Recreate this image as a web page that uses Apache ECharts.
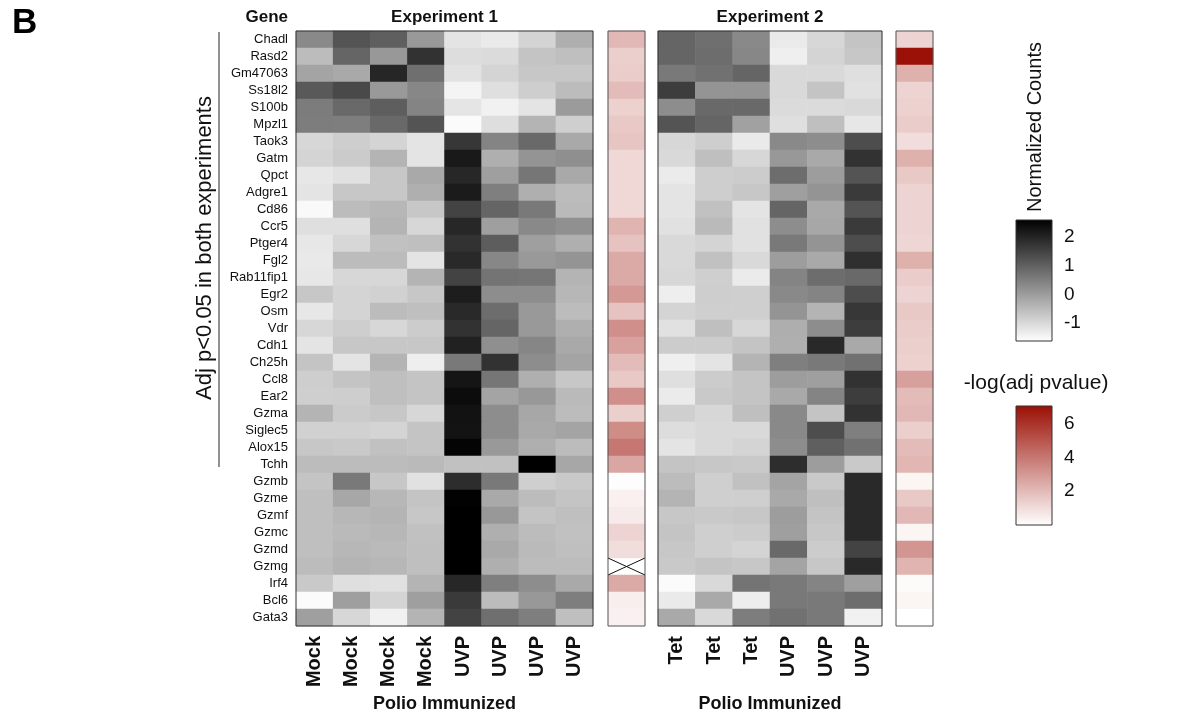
<!DOCTYPE html>
<html>
<head>
<meta charset="utf-8">
<script src="https://cdn.jsdelivr.net/npm/echarts@6/dist/echarts.min.js"></script>
<style>html,body{margin:0;padding:0;background:#fff}#c{width:1184px;height:720px}</style>
</head>
<body>
<div id="c"></div>
<script>
// ---------------- data ----------------
const genes = ['Chadl','Rasd2','Gm47063','Ss18l2','S100b','Mpzl1','Taok3','Gatm','Qpct','Adgre1','Cd86','Ccr5','Ptger4','Fgl2','Rab11fip1','Egr2','Osm','Vdr','Cdh1','Ch25h','Ccl8','Ear2','Gzma','Siglec5','Alox15','Tchh','Gzmb','Gzme','Gzmf','Gzmc','Gzmd','Gzmg','Irf4','Bcl6','Gata3'];
const exp1Labels = ['Mock','Mock','Mock','Mock','UVP','UVP','UVP','UVP'];
const exp2Labels = ['Tet','Tet','Tet','UVP','UVP','UVP'];
const exp1Values = [
 [0.33,1.20,1.02,0.06,-1.17,-1.27,-0.91,-0.30],
 [-0.51,0.92,0.08,1.76,-1.06,-1.02,-0.64,-0.56],
 [-0.12,-0.20,1.97,0.76,-1.14,-0.91,-0.69,-0.69],
 [1.12,1.38,0.06,0.36,-1.44,-1.09,-0.81,-0.51],
 [0.54,0.85,1.04,0.41,-1.19,-1.39,-1.17,0.03],
 [0.52,0.51,0.85,1.20,-1.55,-1.07,-0.38,-0.83],
 [-0.96,-0.81,-0.91,-1.17,1.68,0.41,0.85,-0.20],
 [-0.91,-0.76,-0.38,-1.17,2.17,-0.30,0.15,0.23],
 [-1.22,-1.12,-0.69,-0.20,1.94,-0.04,0.64,-0.20],
 [-1.17,-0.69,-0.69,-0.30,2.14,0.49,-0.30,-0.51],
 [-1.52,-0.51,-0.43,-0.69,1.48,0.92,0.59,-0.48],
 [-1.09,-1.09,-0.38,-0.96,1.94,-0.04,0.33,0.21],
 [-1.22,-0.96,-0.60,-0.56,1.76,1.05,-0.04,-0.30],
 [-1.25,-0.51,-0.51,-1.17,1.91,0.36,0.06,0.15],
 [-1.22,-0.96,-0.96,-0.38,1.48,0.67,0.64,-0.38],
 [-0.69,-0.91,-0.86,-0.69,2.11,0.26,0.26,-0.43],
 [-1.22,-0.91,-0.51,-0.56,1.91,0.79,0.06,-0.51],
 [-0.96,-0.81,-0.96,-0.78,1.76,0.92,0.06,-0.30],
 [-1.17,-0.69,-0.69,-0.69,2.04,0.23,0.38,-0.20],
 [-0.64,-1.17,-0.38,-1.34,0.59,1.76,0.26,-0.12],
 [-0.81,-0.64,-0.56,-0.64,2.25,0.64,-0.30,-0.69],
 [-0.83,-0.81,-0.56,-0.64,2.40,-0.12,0.08,-0.48],
 [-0.38,-0.76,-0.69,-0.96,2.30,0.26,-0.17,-0.51],
 [-0.86,-0.86,-0.91,-0.64,2.27,0.26,-0.20,-0.12],
 [-0.69,-0.73,-0.60,-0.64,2.52,0.06,-0.30,-0.51],
 [-0.51,-0.51,-0.51,-0.48,-0.60,-0.60,2.60,-0.17],
 [-0.64,0.59,-0.69,-1.12,1.84,0.59,-0.83,-0.73],
 [-0.56,-0.17,-0.43,-0.64,2.55,-0.20,-0.51,-0.64],
 [-0.56,-0.43,-0.38,-0.69,2.60,0.08,-0.64,-0.56],
 [-0.56,-0.48,-0.43,-0.60,2.60,-0.30,-0.51,-0.60],
 [-0.56,-0.43,-0.48,-0.56,2.60,-0.20,-0.48,-0.56],
 [-0.51,-0.38,-0.43,-0.56,2.60,-0.30,-0.51,-0.51],
 [-0.73,-1.09,-1.12,-0.38,1.94,0.49,0.26,-0.20],
 [-1.55,-0.04,-0.91,-0.04,1.64,-0.51,0.08,0.51],
 [-0.04,-0.96,-1.39,-0.38,1.48,0.76,0.51,-0.56]
];
const exp2Values = [
 [0.92,0.76,0.33,-1.27,-0.96,-0.64],
 [0.92,0.79,0.36,-1.35,-0.91,-0.69],
 [0.59,0.72,0.92,-0.99,-0.99,-1.09],
 [1.58,0.15,0.15,-0.99,-0.64,-1.12],
 [0.26,0.85,0.85,-1.02,-1.02,-0.99],
 [1.20,0.92,-0.07,-1.09,-0.56,-1.22],
 [-0.96,-0.81,-1.27,0.33,0.26,1.32],
 [-0.99,-0.56,-0.96,0.08,-0.20,1.76],
 [-1.29,-0.81,-0.78,0.79,0.00,1.20],
 [-1.17,-0.81,-0.69,-0.04,0.15,1.64],
 [-1.17,-0.60,-1.17,0.92,-0.20,1.20],
 [-1.12,-0.48,-1.12,0.26,-0.17,1.64],
 [-0.99,-0.91,-1.12,0.59,0.15,1.32],
 [-0.99,-0.60,-0.99,0.00,-0.20,1.81],
 [-0.96,-0.83,-1.29,0.41,0.79,0.85],
 [-1.34,-0.81,-0.83,0.33,0.41,1.32],
 [-0.91,-0.83,-0.83,0.15,-0.38,1.68],
 [-1.12,-0.56,-0.96,-0.28,0.26,1.58],
 [-0.78,-0.78,-0.64,-0.30,1.91,-0.20],
 [-1.35,-1.17,-0.38,0.49,0.59,0.72],
 [-1.09,-0.78,-0.64,0.00,-0.04,1.76],
 [-1.29,-0.73,-0.64,-0.20,0.41,1.58],
 [-0.83,-0.96,-0.56,0.33,-0.64,1.76],
 [-1.06,-0.99,-0.99,0.33,1.32,0.49],
 [-1.17,-0.99,-0.91,0.26,1.02,0.72],
 [-0.64,-0.69,-0.73,1.84,0.00,-0.73],
 [-0.51,-0.83,-0.60,-0.12,-0.73,1.91],
 [-0.38,-0.83,-0.83,-0.20,-0.56,1.91],
 [-0.69,-0.73,-0.69,0.00,-0.64,1.91],
 [-0.64,-0.83,-0.78,-0.04,-0.69,1.91],
 [-0.69,-0.83,-0.91,0.85,-0.78,1.48],
 [-0.73,-0.64,-0.69,-0.12,-0.69,1.91],
 [-1.55,-0.99,0.67,0.59,0.41,-0.04],
 [-1.27,-0.20,-1.34,0.59,0.59,0.79],
 [-0.20,-0.99,0.52,0.72,0.59,-1.39]
];
const pvalExp1 = [2.1,1.4,1.5,2.0,1.35,1.6,1.7,1.15,1.15,1.15,1.15,2.2,1.75,2.5,2.5,3.0,1.75,3.3,2.75,2.0,1.6,3.3,1.4,3.35,4.0,2.6,0.05,0.45,0.6,1.25,1.0,null,2.5,0.5,0.4];
const pvalExp2 = [1.25,7.0,2.3,1.3,1.35,1.5,1.0,2.3,1.6,1.3,1.3,1.3,1.2,2.3,1.5,1.25,1.6,1.5,1.4,1.35,2.8,2.0,2.1,1.4,2.0,2.15,0.3,1.6,2.1,0.3,3.1,2.2,0.15,0.3,0.0];
const countTicks = [-1, 0, 1, 2];
const pvalTicks = [2, 4, 6];
const countRange = [-1.62, 2.59];
const pvalRange = [0, 7.05];
const greyColors = ['#ffffff', '#000000'];
const redColors = ['#ffffff', '#9b0f05'];

// ---------------- build ----------------
const FONT = "'Liberation Sans', Arial, sans-serif";
function cells(mat){ const out=[]; mat.forEach((row,r)=>row.forEach((v,c)=>out.push([c,r,v]))); return out; }
function col(arr){ return arr.map((v,r)=>[0,r,v==null?'-':v]); }
const missing1 = pvalExp1.map((v,r)=>v==null?[0,r]:null).filter(Boolean);

const gridBase = {show:true, backgroundColor:'transparent', borderWidth:1, z:10, outerBoundsMode:'none', containLabel:false};
const grids = [
  Object.assign({}, gridBase, {left:296, top:31, width:297, height:595, borderColor:'#333'}),
  Object.assign({}, gridBase, {left:608, top:31, width:37, height:595, borderColor:'#555'}),
  Object.assign({}, gridBase, {left:658, top:31, width:224, height:595, borderColor:'#333'}),
  Object.assign({}, gridBase, {left:896, top:31, width:37, height:595, borderColor:'#555'}),
  {show:false, left:1016, top:220, width:36, height:121, outerBoundsMode:'none'},
  {show:false, left:1016, top:406, width:36, height:119, outerBoundsMode:'none'}
];
function catX(gi, labels, show){
  return {type:'category', gridIndex:gi, data:labels.map((_,i)=>String(i)),
    axisLine:{show:false}, axisTick:{show:false}, splitLine:{show:false},
    axisLabel:{show:show, rotate:90, margin:10, fontSize:20, fontWeight:'bold', color:'#111', fontFamily:FONT,
      formatter:(v)=>labels[+v]}};
}
function geneY(gi, show){
  return {type:'category', gridIndex:gi, data:genes, inverse:true,
    axisLine:{show:false}, axisTick:{show:false}, splitLine:{show:false},
    axisLabel:{show:show, fontSize:13, color:'#111', margin:8, fontFamily:FONT}};
}
function legY(gi, range, ticks, side){
  return {type:'value', gridIndex:gi, min:range[0], max:range[1], position:side,
    axisLine:{show:false}, splitLine:{show:false},
    axisTick:{show:true, inside:true, length:4, customValues:ticks, lineStyle:{color:'#222', width:1}},
    axisLabel:{show:side==='right', customValues:ticks, fontSize:19, color:'#111', margin:12, fontFamily:FONT}};
}
function legendBar(gi, yi, range, colors){
  return {type:'custom', xAxisIndex:gi, yAxisIndex:yi, silent:true, z:5,
    data:[[0, range[0], range[1]]], encode:{x:0, y:[1,2]},
    renderItem:(params, api)=>{
      const top = api.coord([0, api.value(2)]);
      const bot = api.coord([0, api.value(1)]);
      const w = api.size([1,0])[0];
      return {type:'rect', shape:{x:top[0]-w/2, y:top[1], width:w, height:bot[1]-top[1]},
        style:{fill:new echarts.graphic.LinearGradient(0,0,0,1,[{offset:0,color:colors[1]},{offset:1,color:colors[0]}]),
          stroke:'#333', lineWidth:1}};
    }};
}

const option = {
  backgroundColor:'#fff',
  animation:false,
  grid: grids,
  xAxis: [
    catX(0, exp1Labels, true),
    catX(1, ['p'], false),
    catX(2, exp2Labels, true),
    catX(3, ['p'], false),
    {type:'category', gridIndex:4, data:['a'], show:false},
    {type:'category', gridIndex:5, data:['a'], show:false}
  ],
  yAxis: [
    geneY(0, true), geneY(1, false), geneY(2, false), geneY(3, false),
    legY(4, countRange, countTicks, 'left'), legY(4, countRange, countTicks, 'right'),
    legY(5, pvalRange, pvalTicks, 'left'), legY(5, pvalRange, pvalTicks, 'right')
  ],
  visualMap: [
    {type:'continuous', show:false, min:countRange[0], max:countRange[1], seriesIndex:[0,2], inRange:{color:greyColors}},
    {type:'continuous', show:false, min:pvalRange[0], max:pvalRange[1], seriesIndex:[1,3], inRange:{color:redColors}}
  ],
  series: [
    {type:'heatmap', xAxisIndex:0, yAxisIndex:0, data:cells(exp1Values), itemStyle:{borderWidth:0}},
    {type:'heatmap', xAxisIndex:1, yAxisIndex:1, data:col(pvalExp1), itemStyle:{borderWidth:0}},
    {type:'heatmap', xAxisIndex:2, yAxisIndex:2, data:cells(exp2Values), itemStyle:{borderWidth:0}},
    {type:'heatmap', xAxisIndex:3, yAxisIndex:3, data:col(pvalExp2), itemStyle:{borderWidth:0}},
    legendBar(4, 4, countRange, greyColors),
    legendBar(5, 6, pvalRange, redColors),
    {type:'custom', xAxisIndex:1, yAxisIndex:1, silent:true, z:6, data:missing1, encode:{x:0, y:1},
      renderItem:(params, api)=>{
        const c = api.coord([api.value(0), api.value(1)]);
        const s = api.size([1,1]);
        const x0=c[0]-s[0]/2, x1=c[0]+s[0]/2, y0=c[1]-s[1]/2, y1=c[1]+s[1]/2;
        return {type:'group', children:[
          {type:'line', shape:{x1:x0,y1:y0,x2:x1,y2:y1}, style:{stroke:'#111', lineWidth:1}},
          {type:'line', shape:{x1:x0,y1:y1,x2:x1,y2:y0}, style:{stroke:'#111', lineWidth:1}}
        ]};
      }}
  ],
  graphic: [
    {type:'text', x:12, y:23, style:{text:'B', font:"bold 35px "+FONT, fill:'#000', align:'left', verticalAlign:'middle', textAlign:'left', textVerticalAlign:'middle'}},
    {type:'text', x:288, y:17, style:{text:'Gene', font:"bold 17px "+FONT, fill:'#111', align:'right', verticalAlign:'middle', textAlign:'right', textVerticalAlign:'middle'}},
    {type:'text', x:444.5, y:17, style:{text:'Experiment 1', font:"bold 17px "+FONT, fill:'#111', align:'center', verticalAlign:'middle', textAlign:'center', textVerticalAlign:'middle'}},
    {type:'text', x:770, y:17, style:{text:'Experiment 2', font:"bold 17px "+FONT, fill:'#111', align:'center', verticalAlign:'middle', textAlign:'center', textVerticalAlign:'middle'}},
    {type:'text', x:444.5, y:704, style:{text:'Polio Immunized', font:"bold 18px "+FONT, fill:'#111', align:'center', verticalAlign:'middle', textAlign:'center', textVerticalAlign:'middle'}},
    {type:'text', x:770, y:704, style:{text:'Polio Immunized', font:"bold 18px "+FONT, fill:'#111', align:'center', verticalAlign:'middle', textAlign:'center', textVerticalAlign:'middle'}},
    {type:'text', x:205, y:248, rotation:Math.PI/2, style:{text:'Adj p<0.05 in both experiments', font:"22px "+FONT, fill:'#111', align:'center', verticalAlign:'middle', textAlign:'center', textVerticalAlign:'middle'}},
    {type:'line', shape:{x1:219, y1:32, x2:219, y2:467}, style:{stroke:'#222', lineWidth:1}},
    {type:'text', x:1035, y:127, rotation:Math.PI/2, style:{text:'Normalized Counts', font:"20px "+FONT, fill:'#111', align:'center', verticalAlign:'middle', textAlign:'center', textVerticalAlign:'middle'}},
    {type:'text', x:1036, y:383, style:{text:'-log(adj pvalue)', font:"21px "+FONT, fill:'#111', align:'center', verticalAlign:'middle', textAlign:'center', textVerticalAlign:'middle'}}
  ]
};
const chart = echarts.init(document.getElementById('c'), null, {renderer:'canvas', width:1184, height:720});
chart.setOption(option);
</script>
</body>
</html>
